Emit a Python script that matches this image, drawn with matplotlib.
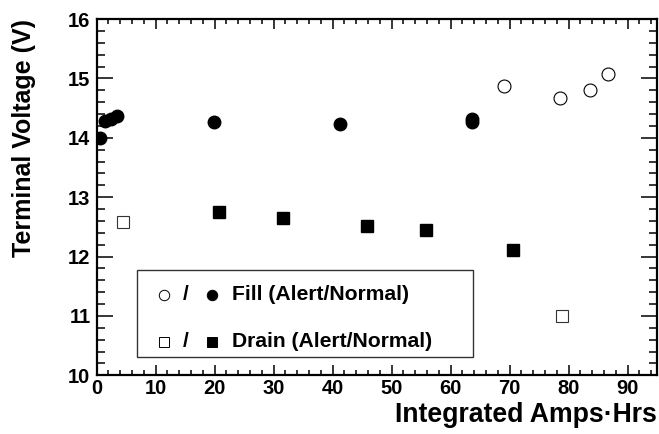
import numpy as np
import matplotlib
matplotlib.use('Agg')
import matplotlib.pyplot as plt
from matplotlib.ticker import MultipleLocator
from matplotlib.patches import Rectangle

plt.rcParams['font.family'] = ['Liberation Sans', 'DejaVu Sans']
plt.rcParams['font.weight'] = 'bold'

# Fill: alert (open) / normal (filled)
fill_alert_x = [69.1, 78.5, 83.6, 86.7]
fill_alert_v = [14.87, 14.67, 14.81, 15.07]
fill_normal_x = [0.6, 1.4, 2.4, 3.5, 19.9, 41.2, 63.7, 63.7]
fill_normal_v = [14.0, 14.28, 14.32, 14.36, 14.26, 14.23, 14.31, 14.27]

# Drain: alert (open) / normal (filled)
drain_alert_x = [4.4, 78.9]
drain_alert_v = [12.58, 11.0]
drain_normal_x = [20.7, 31.6, 45.8, 55.8, 70.5]
drain_normal_v = [12.75, 12.65, 12.52, 12.45, 12.11]

x_label = 'Integrated Amps\u00b7Hrs'
y_label = 'Terminal Voltage (V)'
legend_labels = ['Fill (Alert/Normal)', 'Drain (Alert/Normal)']

fig = plt.figure(figsize=(6.59, 4.34), dpi=100)
ax = fig.add_axes([0.1467, 0.1353, 0.997 - 0.1467, 0.9562 - 0.1353])

ax.plot(fill_normal_x, fill_normal_v, 'o', ms=9, mfc='k', mec='k', mew=1, ls='none')
ax.plot(fill_alert_x, fill_alert_v, 'o', ms=9.3, mfc='white', mec='k', mew=0.8, ls='none')
ax.plot(drain_normal_x, drain_normal_v, 's', ms=9, mfc='k', mec='k', mew=1, ls='none')
ax.plot(drain_alert_x, drain_alert_v, 's', ms=9.3, mfc='white', mec='#333333', mew=0.8, ls='none')

ax.set_xlim(0, 95)
ax.set_ylim(10, 16)
ax.xaxis.set_major_locator(MultipleLocator(10))
ax.xaxis.set_minor_locator(MultipleLocator(2))
ax.yaxis.set_major_locator(MultipleLocator(1))
ax.yaxis.set_minor_locator(MultipleLocator(0.2))

for s in ax.spines.values():
    s.set_linewidth(1.6)

ax.tick_params(axis='both', which='both', direction='in', top=True, right=True,
               width=1.1, labelsize=14.5)
ax.tick_params(axis='x', which='major', length=7.5, pad=3)
ax.tick_params(axis='x', which='minor', length=3.8)
ax.tick_params(axis='y', which='major', length=11.5, pad=4.5)
ax.tick_params(axis='y', which='minor', length=6)
for lab in ax.get_xticklabels() + ax.get_yticklabels():
    lab.set_fontweight('bold')

ax.set_xlabel(x_label, fontsize=19.2, fontweight='bold', loc='right', labelpad=2.5)
ax.set_ylabel(y_label, fontsize=18, fontweight='bold', loc='top', labelpad=23)

# legend box drawn by hand: "○ / ●  label"
box = Rectangle((0.0717, 0.0514), 0.5997, 0.2441, transform=ax.transAxes,
                fill=True, facecolor='white', edgecolor='#333333', lw=1.0, zorder=5)
ax.add_patch(box)
rows = [(0.2254, 'o'), (0.0943, 's')]
for (yy, mk), lab in zip(rows, legend_labels):
    ax.plot([0.120], [yy], mk, ms=7.5 if mk == 'o' else 7, mfc='white', mec='k', mew=0.7,
            transform=ax.transAxes, zorder=6, clip_on=False)
    ax.text(0.159, yy, '/', transform=ax.transAxes, fontsize=15, fontweight='bold',
            ha='center', va='center', zorder=6)
    ax.plot([0.205], [yy], mk, ms=7.5 if mk == 'o' else 7, mfc='k', mec='k', mew=0.7,
            transform=ax.transAxes, zorder=6, clip_on=False)
    ax.text(0.241, yy, lab, transform=ax.transAxes, fontsize=15.2, fontweight='bold',
            ha='left', va='center', zorder=6)

fig.savefig('out.png', dpi=100)
